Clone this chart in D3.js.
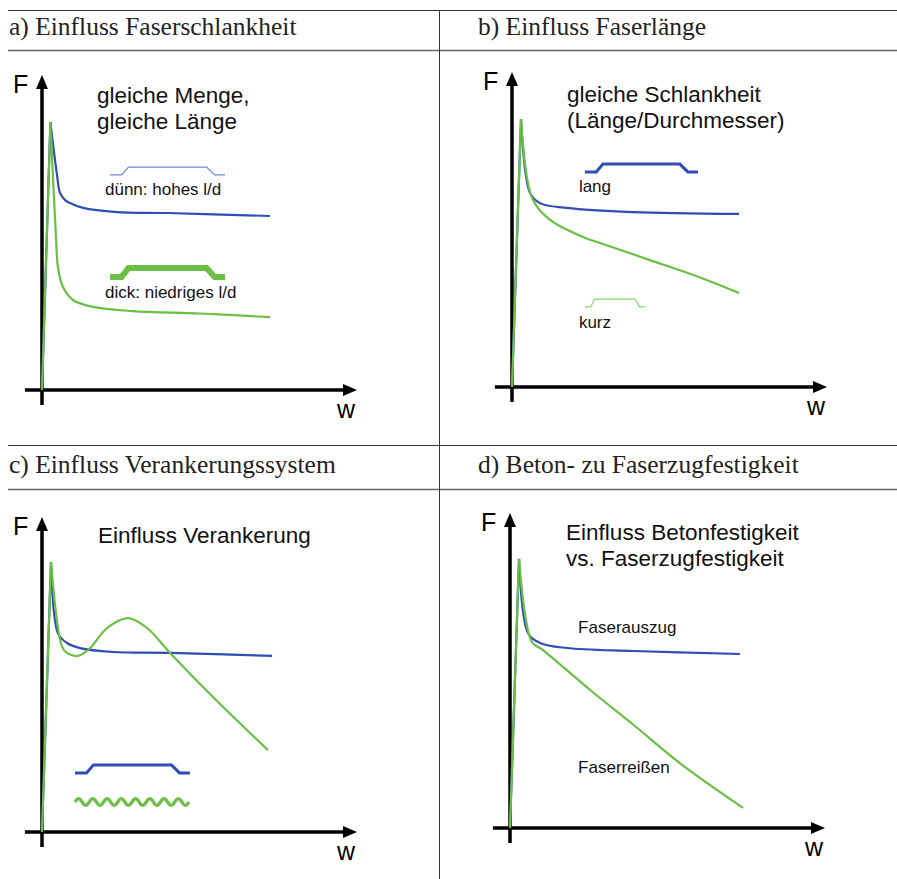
<!DOCTYPE html>
<html>
<head>
<meta charset="utf-8">
<script src="https://cdn.jsdelivr.net/npm/d3@7"></script>
<style>
  body { margin: 0; background: #fff; }
</style>
</head>
<body>
<div id="chart"></div>
<script>
var svgWidth = 897;
var svgHeight = 879;

// ---- data (w, F in arbitrary units, 0..10) ----
var headers = [
  "a) Einfluss Faserschlankheit",
  "b) Einfluss Faserlänge",
  "c) Einfluss Verankerungssystem",
  "d) Beton- zu Faserzugfestigkeit"
];

var titles = [
  ["gleiche Menge,", "gleiche Länge"],
  ["gleiche Schlankheit", "(Länge/Durchmesser)"],
  ["Einfluss Verankerung"],
  ["Einfluss Betonfestigkeit", "vs. Faserzugfestigkeit"]
];

var curveLabels = [
  ["dünn: hohes l/d", "dick: niedriges l/d"],
  ["lang", "kurz"],
  [],
  ["Faserauszug", "Faserreißen"]
];

var blueA = [[0, 0], [0.28, 8.93], [0.5, 7.17], [0.6, 6.57], [0.77, 6.33], [0.93, 6.23], [1.37, 6.07], [2.5, 5.93], [4.17, 5.9], [7.6, 5.8]];
var greenA = [[0, 0], [0.28, 8.93], [0.47, 5.0], [0.53, 4.1], [0.7, 3.43], [1.03, 3.0], [1.7, 2.77], [3.03, 2.63], [5.27, 2.55], [7.6, 2.43]];

var blueB = [[0, 0], [0.3, 8.93], [0.6, 6.47], [0.93, 6.13], [1.83, 5.97], [4.03, 5.83], [7.57, 5.77]];
var greenB = [[0, 0], [0.3, 8.93], [0.67, 6.3], [1.27, 5.57], [2.37, 5.0], [2.93, 4.8], [4.6, 4.23], [6.27, 3.65], [7.57, 3.13]];

var blueC = [[0, 0], [0.3, 9.0], [0.53, 6.63], [0.83, 6.3], [1.27, 6.13], [2.37, 6.0], [4.27, 5.97], [7.67, 5.87]];
var greenC = [[0, 0], [0.3, 9.0], [0.67, 6.17], [0.83, 5.97], [1.2, 5.87], [1.6, 6.13], [2.17, 6.8], [2.87, 7.13], [3.5, 6.8], [4.27, 5.97], [5.7, 4.5], [7.53, 2.73]];

var blueD = [[0, 0], [0.3, 8.97], [0.6, 6.5], [1.0, 6.17], [1.9, 6.0], [4.1, 5.9], [7.67, 5.8]];
var greenD = [[0, 0], [0.3, 8.97], [0.73, 6.2], [1.1, 5.93], [2.67, 4.6], [4.1, 3.45], [5.77, 2.08], [7.77, 0.67]];

// profile of a hooked-end fibre, normalised to a 1x1 box
var fiberShape = [[0, 0], [0.1, 0], [0.16, 1], [0.84, 1], [0.91, 0], [1, 0]];

// ---- layout ----
var blue = "#2f4db4";
var green = "#6abf44";
var unit = 30;

var panels = [
  {ox: 42, oy: 390, hx: 9, hy: 35, blue: blueA, green: greenA,
   titleAt: [1.83, 9.57],
   labelsAt: [[2.1, 6.5], [2.1, 3.07]],
   icons: [{w0: 2.27, w1: 6.1, f0: 7.17, f1: 7.43, color: "#6f88d6", width: 1.2},
           {w0: 2.27, w1: 6.1, f0: 3.77, f1: 4.07, color: green, width: 6}]},
  {ox: 512, oy: 387, hx: 478, hy: 35, blue: blueB, green: greenB,
   titleAt: [1.83, 9.5],
   labelsAt: [[2.23, 6.5], [2.23, 1.97]],
   icons: [{w0: 2.43, w1: 6.2, f0: 7.17, f1: 7.43, color: blue, width: 3},
           {w0: 2.43, w1: 4.43, f0: 2.67, f1: 2.93, color: "#8ed16b", width: 1.2}]},
  {ox: 42, oy: 832, hx: 9, hy: 473, blue: blueC, green: greenC,
   titleAt: [1.87, 9.63],
   labelsAt: [],
   icons: [{w0: 1.1, w1: 4.93, f0: 1.97, f1: 2.23, color: blue, width: 3}],
   wave: {w0: 1.1, w1: 4.9, f: 1.0, periods: 8}},
  {ox: 510, oy: 828, hx: 478, hy: 473, blue: blueD, green: greenD,
   titleAt: [1.87, 9.6],
   labelsAt: [[2.27, 6.5], [2.27, 1.83]],
   icons: []}
];

var svg = d3.select("#chart")
  .append("svg")
  .attr("width", svgWidth)
  .attr("height", svgHeight)
  .style("font-family", "'Liberation Sans', Arial, sans-serif");

// table rules
var rules = svg.append("g").attr("fill", "none");
[10.5, 445.5].forEach(function(yy) {
  rules.append("line").attr("x1", 8).attr("x2", svgWidth).attr("y1", yy).attr("y2", yy)
    .attr("stroke", "#333").attr("stroke-width", 1);
});
[50.5, 489.5].forEach(function(yy) {
  rules.append("line").attr("x1", 8).attr("x2", svgWidth).attr("y1", yy).attr("y2", yy)
    .attr("stroke", "#666").attr("stroke-width", 1.5);
});
rules.append("line").attr("x1", 439.5).attr("x2", 439.5).attr("y1", 10).attr("y2", svgHeight)
  .attr("stroke", "#333").attr("stroke-width", 1);

var riseLine = d3.line();
var fallLine = d3.line().curve(d3.curveCatmullRom.alpha(0.5));

panels.forEach(function(p, i) {
  var x = d3.scaleLinear().domain([0, 10]).range([p.ox, p.ox + 10 * unit]);
  var y = d3.scaleLinear().domain([0, 10]).range([p.oy, p.oy - 10 * unit]);
  var g = svg.append("g");

  // header
  svg.append("text")
    .attr("x", p.hx).attr("y", p.hy)
    .style("font-family", "'Liberation Serif', 'Times New Roman', serif")
    .style("font-size", "25.5px")
    .attr("fill", "#222")
    .text(headers[i]);

  // axes with arrow heads
  var xTip = x(10.5), yTip = y(10.5);
  g.append("line")
    .attr("x1", x(-0.57)).attr("x2", xTip - 8)
    .attr("y1", y(0)).attr("y2", y(0))
    .attr("stroke", "#000").attr("stroke-width", 3.5);
  g.append("path")
    .attr("d", `M${xTip},${y(0)} L${xTip - 14},${y(0) - 6} L${xTip - 14},${y(0) + 6} Z`)
    .attr("fill", "#000");
  g.append("line")
    .attr("x1", x(0)).attr("x2", x(0))
    .attr("y1", y(-0.5)).attr("y2", yTip + 8)
    .attr("stroke", "#000").attr("stroke-width", 3.5);
  g.append("path")
    .attr("d", `M${x(0)},${yTip} L${x(0) - 6},${yTip + 14} L${x(0) + 6},${yTip + 14} Z`)
    .attr("fill", "#000");

  g.append("text")
    .attr("x", x(0) - 29).attr("y", yTip + 18)
    .style("font-size", "25px")
    .text("F");
  g.append("text")
    .attr("x", xTip - 20).attr("y", y(0) + 28)
    .style("font-size", "25px")
    .text("w");

  // curves: linear rise to the peak, smooth softening branch after it
  [[p.blue, blue], [p.green, green]].forEach(function(s) {
    var pts = s[0].map(function(d) { return [x(d[0]), y(d[1])]; });
    g.append("path")
      .attr("d", fallLine(pts.slice(1)))
      .attr("fill", "none").attr("stroke", s[1]).attr("stroke-width", 2.2)
      .attr("stroke-linejoin", "round");
  });
  [[p.blue, blue], [p.green, green]].forEach(function(s) {
    var pts = s[0].map(function(d) { return [x(d[0]), y(d[1])]; });
    g.append("path")
      .attr("d", riseLine(pts.slice(0, 2)))
      .attr("fill", "none").attr("stroke", s[1]).attr("stroke-width", 2.2);
  });

  // title
  titles[i].forEach(function(t, k) {
    g.append("text")
      .attr("x", x(p.titleAt[0]))
      .attr("y", y(p.titleAt[1]) + k * 26)
      .style("font-size", "22.5px")
      .attr("fill", "#111")
      .text(t);
  });

  // curve labels
  curveLabels[i].forEach(function(t, k) {
    g.append("text")
      .attr("x", x(p.labelsAt[k][0]))
      .attr("y", y(p.labelsAt[k][1]))
      .style("font-size", "17px")
      .attr("fill", "#111")
      .text(t);
  });

  // fibre icons
  p.icons.forEach(function(ic) {
    var fx = d3.scaleLinear().domain([0, 1]).range([x(ic.w0), x(ic.w1)]);
    var fy = d3.scaleLinear().domain([0, 1]).range([y(ic.f0), y(ic.f1)]);
    g.append("path")
      .attr("d", riseLine(fiberShape.map(function(d) { return [fx(d[0]), fy(d[1])]; })))
      .attr("fill", "none").attr("stroke", ic.color).attr("stroke-width", ic.width);
  });

  // crimped (wavy) fibre
  if (p.wave) {
    var wv = p.wave;
    var x0 = x(wv.w0), x1 = x(wv.w1), cy = y(wv.f);
    var n = wv.periods * 16;
    var wavePts = d3.range(n + 1).map(function(j) {
      var t = j / n;
      return [x0 + t * (x1 - x0), cy - 3.4 * Math.sin(t * wv.periods * 2 * Math.PI)];
    });
    g.append("path")
      .attr("d", d3.line().curve(d3.curveBasis)(wavePts))
      .attr("fill", "none").attr("stroke", green).attr("stroke-width", 3.2);
  }
});
</script>
</body>
</html>
